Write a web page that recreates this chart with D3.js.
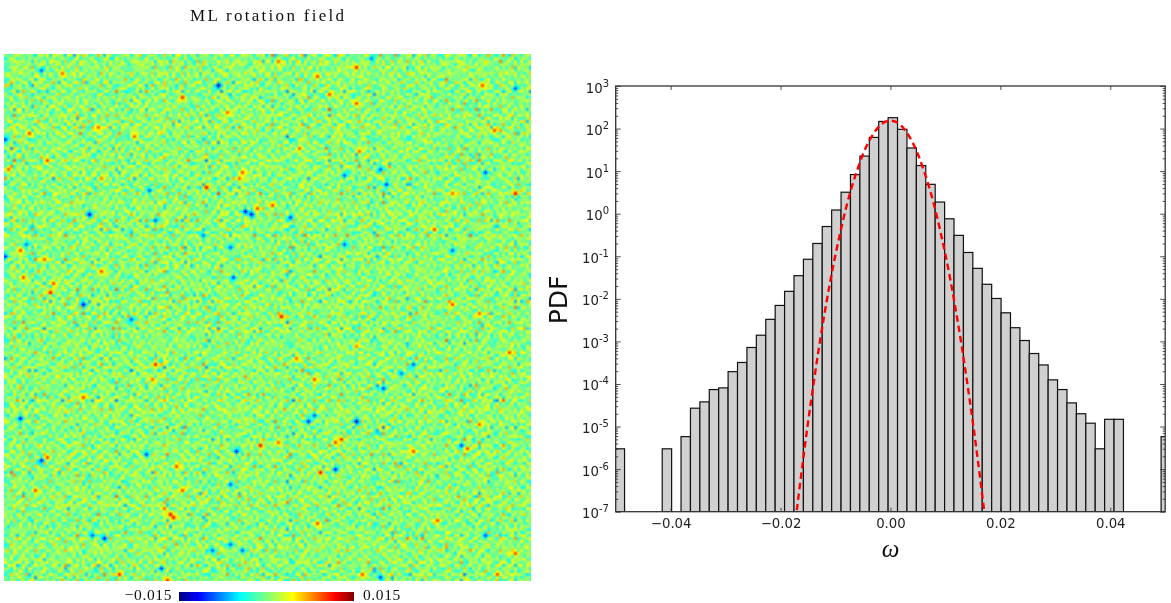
<!DOCTYPE html>
<html><head><meta charset="utf-8">
<script src="https://cdnjs.cloudflare.com/ajax/libs/d3/7.8.5/d3.min.js"></script>
<style>
html,body{margin:0;padding:0;background:#fff;width:1171px;height:603px;overflow:hidden}
canvas{position:absolute;left:4px;top:54px}
svg{position:absolute;left:0;top:0;filter:blur(0.35px)}
</style></head><body>
<canvas id="field" width="527" height="527"></canvas>
<svg id="chart" width="1171" height="603"></svg>
<script>
// ---------- histogram (left edge of first bin, bin width, PDF per bin; null = empty bin) ----------
const binStart = -0.0501;
const binWidth = 0.001713;
const pdfBins = [3e-6,null,null,null,null,3e-6,null,
  5.8e-6,2.7e-5,3.8e-5,7.4e-5,8.1e-5,1.95e-4,3.2e-4,7.2e-4,1.4e-3,3.3e-3,
  7e-3,1.5e-2,3.5e-2,8.5e-2,0.2,0.5,1.22,3.2,8.3,22.6,62,147,180,96,35,13.5,
  4.9,1.88,0.76,0.31,0.123,0.052,0.022,0.0102,0.0047,0.0021,1.05e-3,5.2e-4,
  2.8e-4,1.25e-4,7.4e-5,3.6e-5,2e-5,1.2e-5,3e-6,1.48e-5,1.48e-5,
  null,null,null,null,5.8e-6];
// ---------- red dashed curve ----------
const curveOmega = [-0.0175,-0.017,-0.016,-0.015,-0.014,-0.013,-0.012,-0.011,-0.01,-0.009,-0.008,-0.007,-0.006,-0.005,-0.004,-0.003,-0.002,-0.001,0,
  0.001,0.002,0.003,0.004,0.005,0.006,0.007,0.008,0.009,0.01,0.011,0.012,0.013,0.014,0.015,0.016,0.017,0.0175];
const curvePdf = [3.5e-8,1.2e-7,1.3e-6,1.25e-5,1e-4,7.3e-4,4.5e-3,0.024,0.11,0.43,1.5,4.4,11,25,48,79,115,143,153,
  143,115,79,48,25,11,4.4,1.5,0.43,0.11,0.024,4.5e-3,7.3e-4,1e-4,1.25e-5,1.3e-6,1.2e-7,3.5e-8];
// ---------- axis ticks ----------
const xTicks = [-0.04,-0.02,0,0.02,0.04];
const yDecades = [-7,-6,-5,-4,-3,-2,-1,0,1,2,3];
const minorMult = [2,3,4,5,6,7,8,9];
// ---------- labels ----------
const mapTitle = "ML rotation field";
const cbarLabels = ["\u22120.015","0.015"];
const jetPos = [0,0.11,0.35,0.5,0.65,0.89,1];
const jetCol = ["#00007f","#0000ff","#00ffff","#7fff7f","#ffff00","#ff0000","#7f0000"];
// ---------- rotation map: background texture tile (levels 0-9) ----------
const textureTile = [
"44673212467743225677422457632346","35784213578632136786412468741245",
"24562345675422346654334567631356","23443567543345675432456543323467",
"34325788421367886323678432134678","45316897312478975214789521234565",
"56425776423567763325667432345432","67544543567654432456543345676321",
"57653234688743224678432357887312","35542125799632125788321468986423",
"23433246687523346576432457764534","24564567543346787543456543445675",
"36875678322478986322578632236786","47986567213578875211689721127875",
"46775445324567654323578632236654","34543334567543345676445543457432",
"22323578764322478875323467786321","21234689875211589986212578997432",
"43456578764323467764334467765544","66787443453567543343567545434676",
"78897322342678632123678623323787","67765433453578743234789734434665",
"45432567764456532456567545676432","32213678875323345687543323787321",
"32124567764212356798432212676212","54346543443423467676543434543434",
"77657432125654576443678765321567","88765321013766785322789874210678",
"67654432124655674433678763322567","43445677543323343567543345678543",
"22356898754212234678632236897632","33467787632334456776533457876433"];
// ---------- rotation map: extremes [col,row,value x 1e-3] ----------
const coldSpots = [[215,32,-13],[37,15,-9],[2,86,-10],[86,161,-12],[242,157,-12],[248,159,-12],[144,135,-9],[152,165,-9],[78,250,-12],[1,202,-10],[227,192,-9],[229,223,-10],[198,180,-8],[22,189,-8],
[285,164,-10],[340,189,-9],[377,115,-9],[381,131,-10],[511,141,-11],[482,118,-10],[447,196,-9],[367,5,-8],[512,33,-9],[339,120,-9],
[17,363,-11],[37,407,-11],[143,399,-10],[233,397,-11],[100,483,-11],[88,482,-9],[157,515,-10],[208,497,-9],[126,266,-9],[226,490,-9],[237,496,-9],[225,430,-9],
[353,366,-13],[305,366,-11],[309,361,-9],[332,416,-11],[457,391,-10],[379,333,-10],[480,480,-10],[376,522,-10],[408,309,-9],[398,320,-8]];
const hotSpots = [[177,43,11],[202,134,12],[24,80,10],[42,107,10],[5,114,9],[45,237,12],[50,230,10],[15,197,10],[19,222,10],[253,155,10],[235,124,9],[237,117,10],[223,58,9],[130,82,9],[95,72,9],[98,123,8],[57,20,9],[41,206,9],[98,217,10],
[353,13,11],[278,262,12],[512,140,12],[491,76,10],[429,174,10],[447,138,9],[448,249,10],[351,49,10],[324,41,10],[314,22,10],[269,151,10],[296,94,9],[355,97,9],[474,259,9],[477,32,10],[274,7,9],
[152,310,11],[166,460,12],[168,463,12],[257,392,12],[114,521,11],[162,525,11],[31,437,10],[79,343,10],[42,404,10],[178,437,10],[172,413,10],[147,325,9],[160,455,9],
[336,384,11],[330,388,10],[315,417,12],[314,468,10],[434,466,10],[309,324,10],[463,393,10],[511,499,10],[505,299,10],[292,303,9],[410,398,10],[475,370,9],[353,293,8],[357,520,10],[494,520,10],[274,388,9]];

// ===== colour scale =====
const vmax = 0.015;
const jet = d3.scaleLinear().domain(jetPos.map(p=>-vmax+2*vmax*p)).range(jetCol).clamp(true);
const levelToValue = d3.scaleLinear().domain([0,9]).range([-0.0058,0.0058]);

// ===== rotation map: tile looked up in different directions with unequal repeat lengths =====
const cell = 3, mapSize = 527, nCells = Math.ceil(mapSize/cell);
const level=(row,col)=>+textureTile[row][col];
const small = document.createElement("canvas"); small.width = small.height = nCells;
const sctx = small.getContext("2d");
for (let r=0;r<nCells;r++) for (let c=0;c<nCells;c++){
  const avg=(level((2*r)%31,(3*c)%31)
    +level((3*c+3)%29,31-(2*r+5)%29)
    +level(31-(3*r+14)%23,(2*c+9)%27))/3;
  sctx.fillStyle=jet(levelToValue(4.5+1.8*(avg-4.5)));
  sctx.fillRect(c,r,1,1);
}
coldSpots.concat(hotSpots).forEach(([c,r,v])=>{
  const cc=Math.floor(c/cell), rr=Math.floor(r/cell);
  sctx.fillStyle=jet(v*0.45e-3);
  [[1,0],[-1,0],[0,1],[0,-1]].forEach(([a,b])=>sctx.fillRect(cc+a,rr+b,1,1));
  sctx.fillStyle=jet(v*1e-3);
  sctx.fillRect(cc,rr,1,1);
});
const ctx=document.getElementById("field").getContext("2d");
ctx.imageSmoothingEnabled=true; ctx.imageSmoothingQuality="medium";
ctx.drawImage(small,0,0,nCells*cell,nCells*cell);

// ===== svg =====
const svg=d3.select("#chart");
svg.append("text").attr("x",267).attr("y",21).attr("text-anchor","middle")
  .attr("font-family","Liberation Serif").attr("font-size",17).attr("fill","#111")
  .attr("textLength",154).attr("lengthAdjust","spacing").text(mapTitle);

// colour bar
const defs=svg.append("defs");
const grad=defs.append("linearGradient").attr("id","jet");
jetPos.forEach((p,i)=>grad.append("stop").attr("offset",p).attr("stop-color",jetCol[i]));
const cbX=d3.scaleLinear().domain([-vmax,vmax]).range([179,354]);
svg.append("rect").attr("x",cbX(-vmax)).attr("y",592).attr("width",cbX(vmax)-cbX(-vmax)).attr("height",9).attr("fill","url(#jet)");
svg.append("text").attr("x",172).attr("y",600).attr("text-anchor","end").attr("font-family","Liberation Serif").attr("font-size",15.5).attr("letter-spacing",0.6).attr("fill","#111").text(cbarLabels[0]);
svg.append("text").attr("x",363).attr("y",600).attr("font-family","Liberation Serif").attr("font-size",15.5).attr("letter-spacing",0.6).attr("fill","#111").text(cbarLabels[1]);

// ===== histogram =====
const L=615.7,R=1165.2,T=86,B=511.7;
const x=d3.scaleLinear().domain([-0.05,0.05]).range([L,R]);
const y=d3.scaleLog().domain([1e-7,1e3]).range([B,T]);
defs.append("clipPath").attr("id","plot").append("rect").attr("x",L).attr("y",T).attr("width",R-L).attr("height",B-T);
const plot=svg.append("g").attr("clip-path","url(#plot)");
plot.selectAll("rect").data(pdfBins.map((v,i)=>({v,i})).filter(d=>d.v!==null)).join("rect")
  .attr("x",d=>x(binStart+d.i*binWidth))
  .attr("width",d=>x(binStart+binWidth)-x(binStart))
  .attr("y",d=>y(d.v)).attr("height",d=>B-y(d.v))
  .attr("fill","#d0d0d0").attr("stroke","#111").attr("stroke-width",1.2);
plot.append("path").datum(curveOmega.map((w,i)=>[w,curvePdf[i]]))
  .attr("fill","none").attr("stroke","#ff0000").attr("stroke-width",2.4).attr("stroke-dasharray","6.5,4")
  .attr("d",d3.line().x(d=>x(d[0])).y(d=>y(d[1])).curve(d3.curveCatmullRom));

const font="DejaVu Sans", tcol="#222";
function clean(g){g.select(".domain").remove();g.selectAll("line").attr("stroke","#222").attr("stroke-width",0.8);}
// x axes
const gxb=svg.append("g").attr("transform",`translate(0,${B})`)
  .call(d3.axisBottom(x).tickValues(xTicks).tickSizeInner(-4).tickPadding(7).tickFormat(d3.format(".2f")));
clean(gxb); gxb.selectAll("text").attr("font-family",font).attr("font-size",13.3).attr("fill",tcol);
const gxt=svg.append("g").attr("transform",`translate(0,${T})`)
  .call(d3.axisTop(x).tickValues(xTicks).tickSizeInner(-4).tickFormat(""));
clean(gxt);
// y axes
const majors=yDecades.map(d=>Math.pow(10,d));
const minors=yDecades.slice(0,-1).flatMap(d=>minorMult.map(m=>m*Math.pow(10,d)));
[d3.axisLeft,d3.axisRight].forEach((ax,i)=>{
  const px=i?R:L;
  const gm=svg.append("g").attr("transform",`translate(${px},0)`)
    .call(ax(y).tickValues(minors).tickSizeInner(-2.5).tickFormat(""));
  clean(gm);
  const gM=svg.append("g").attr("transform",`translate(${px},0)`)
    .call(ax(y).tickValues(majors).tickSizeInner(-5).tickFormat(""));
  clean(gM);
});
const ylab=svg.append("g");
ylab.selectAll("text").data(yDecades).join("text")
  .attr("x",609).attr("y",d=>y(Math.pow(10,d))+6.5)
  .attr("text-anchor","end").attr("font-family",font).attr("font-size",13.3).attr("fill",tcol)
  .each(function(d){
    const t=d3.select(this);
    t.append("tspan").text("10");
    t.append("tspan").attr("dy",-6).attr("font-size",10).text(String(d));
  });
// frame
svg.append("rect").attr("x",L).attr("y",T).attr("width",R-L).attr("height",B-T)
  .attr("fill","none").attr("stroke","#333").attr("stroke-width",1.3);
// axis titles
svg.append("text").attr("transform","translate(567,300) rotate(-90)").attr("text-anchor","middle")
  .attr("font-family",font).attr("font-size",25).attr("fill","#111").text("PDF");
svg.append("text").attr("x",890.5).attr("y",557).attr("text-anchor","middle")
  .attr("font-family","Liberation Serif").attr("font-style","italic").attr("font-size",25).attr("fill","#111").text("\u03c9");
</script></body></html>
